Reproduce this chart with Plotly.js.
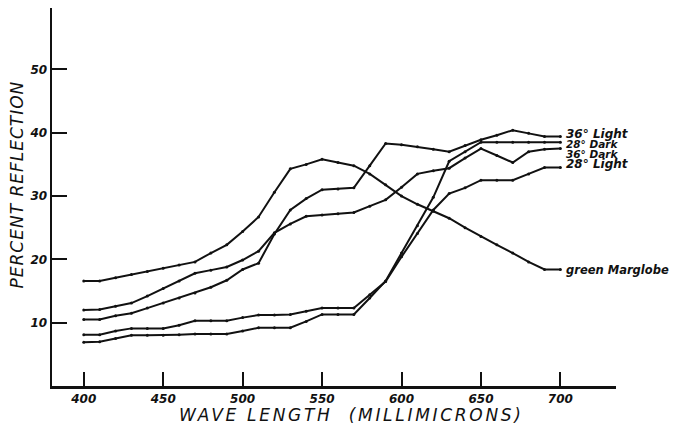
<!DOCTYPE html>
<html>
<head>
<meta charset="utf-8">
<script src="https://cdn.plot.ly/plotly-3.0.1.min.js"></script>
<style>
  html, body { margin: 0; padding: 0; background: #fff; }
  #chart { width: 674px; height: 430px; }
</style>
</head>
<body>
<div id="chart"></div>
<script>
// Wavelength samples (millimicrons)
const wavelength = [400, 410, 420, 430, 440, 450, 460, 470, 480, 490, 500,
                    510, 520, 530, 540, 550, 560, 570, 580, 590, 600,
                    610, 620, 630, 640, 650, 660, 670, 680, 690, 700];

// Percent reflection for each sample
const greenMarglobe = [16.6, 16.6, 17.1, 17.6, 18.1, 18.6, 19.1, 19.6, 21.0, 22.3, 24.4,
                       26.7, 30.6, 34.3, 35.0, 35.8, 35.3, 34.8, 33.5, 31.8, 30.0,
                       28.7, 27.6, 26.5, 25.0, 23.6, 22.3, 21.0, 19.6, 18.4, 18.4];
const light36 = [10.5, 10.5, 11.1, 11.5, 12.3, 13.1, 13.9, 14.7, 15.6, 16.7, 18.4,
                 19.4, 24.0, 27.8, 29.6, 31.0, 31.1, 31.3, 34.8, 38.3, 38.1,
                 37.8, 37.4, 37.0, 38.0, 38.9, 39.6, 40.4, 39.9, 39.4, 39.4];
const dark36 = [12.0, 12.1, 12.6, 13.1, 14.2, 15.4, 16.6, 17.8, 18.3, 18.8, 19.9,
                21.3, 24.2, 25.6, 26.8, 27.0, 27.2, 27.4, 28.4, 29.4, 31.4,
                33.5, 34.0, 34.4, 36.0, 37.5, 36.4, 35.3, 37.0, 37.4, 37.5];
const dark28 = [6.9, 7.0, 7.5, 8.0, 8.0, 8.0, 8.1, 8.2, 8.2, 8.2, 8.7,
                9.2, 9.2, 9.2, 10.2, 11.3, 11.3, 11.3, 13.9, 16.6, 21.0,
                25.3, 29.8, 35.5, 37.0, 38.5, 38.5, 38.5, 38.5, 38.5, 38.5];
const light28 = [8.1, 8.1, 8.7, 9.1, 9.1, 9.1, 9.6, 10.3, 10.3, 10.3, 10.8,
                 11.2, 11.2, 11.3, 11.8, 12.3, 12.3, 12.3, 14.4, 16.5, 20.4,
                 24.1, 27.8, 30.4, 31.3, 32.5, 32.5, 32.5, 33.5, 34.5, 34.5];

// Curve end labels and where they sit on the reflection scale
const seriesNames = ['36° Light', '28° Dark', '36° Dark', '28° Light', 'green Marglobe'];
const labelLevels = [39.8, 38.3, 36.65, 35.0, 18.4];
const labelSizes = [12, 10.5, 10.5, 12, 11.5];

const yTicks = [10, 20, 30, 40, 50];
const xTicks = [400, 450, 500, 550, 600, 650, 700];

const ink = '#111';
const seriesData = [light36, dark28, dark36, light28, greenMarglobe];

const traces = seriesData.map((vals, i) => ({
  type: 'scatter',
  mode: 'lines+markers',
  name: seriesNames[i],
  x: wavelength,
  y: vals,
  line: { color: ink, width: 2 },
  marker: { color: ink, size: 3 },
  hoverinfo: 'x+y+name'
}));

const annotations = seriesNames.map((name, i) => ({
  x: wavelength[wavelength.length - 1],
  y: labelLevels[i],
  xref: 'x', yref: 'y',
  xanchor: 'left', yanchor: 'middle',
  xshift: 4,
  showarrow: false,
  text: name,
  font: { family: 'DejaVu Sans', size: labelSizes[i], color: ink, weight: 'bold', style: 'italic' }
}));

// Axis titles, placed by pixel position
const W = 674, H = 430;
const M = { l: 52, r: 58, t: 8, b: 44 };
const px = v => (v - M.l) / (W - M.l - M.r);
const py = v => (H - M.b - v) / (H - M.t - M.b);

annotations.push({
  x: px(16.5), y: py(185), xref: 'paper', yref: 'paper',
  xanchor: 'center', yanchor: 'middle',
  showarrow: false,
  text: '<span style="letter-spacing:1px">PERCENT REFLECTION</span>',
  textangle: -90,
  font: { family: 'DejaVu Sans', size: 17, color: ink, style: 'italic' }
});
annotations.push({
  x: px(351.5), y: py(415), xref: 'paper', yref: 'paper',
  xanchor: 'center', yanchor: 'middle',
  showarrow: false,
  text: '<span style="letter-spacing:2.7px">WAVE LENGTH  (MILLIMICRONS)</span>',
  font: { family: 'DejaVu Sans', size: 17, color: ink, style: 'italic' }
});

const tickFont = { family: 'DejaVu Sans', size: 12, color: ink, weight: 'bold', style: 'italic' };

const layout = {
  width: W, height: H,
  margin: M,
  paper_bgcolor: '#fff',
  plot_bgcolor: '#fff',
  showlegend: false,
  xaxis: {
    range: [380, 735],
    tickvals: xTicks,
    ticktext: xTicks.map(String),
    ticks: 'inside', ticklen: 14, tickwidth: 2, tickcolor: ink,
    showline: true, linecolor: ink, linewidth: 2.5,
    showgrid: false, zeroline: false,
    tickfont: tickFont
  },
  yaxis: {
    range: [0, 59.7],
    tickvals: yTicks,
    ticktext: yTicks.map(String),
    ticks: 'inside', ticklen: 15, tickwidth: 2, tickcolor: ink,
    showline: true, linecolor: ink, linewidth: 2.5,
    showgrid: false, zeroline: false,
    tickfont: tickFont
  },
  annotations: annotations
};

Plotly.newPlot('chart', traces, layout, { displayModeBar: false, staticPlot: true });
</script>
</body>
</html>
